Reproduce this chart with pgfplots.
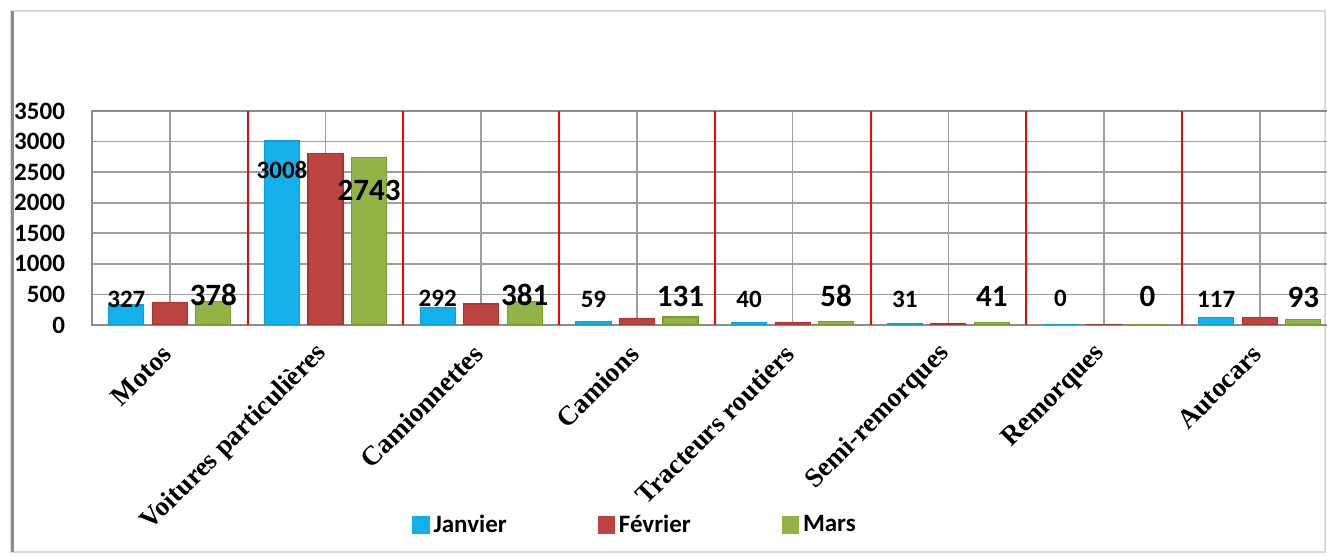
\documentclass[border=0pt]{standalone}
\usepackage{pgfplots}
\pgfplotsset{compat=1.18}
\usepackage{pgfplotstable}
\usepackage{fontspec}
\setmainfont{Carlito}
\newfontfamily\catfont{Liberation Serif}
\definecolor{janD}{HTML}{0E9FD6}
\definecolor{janM}{HTML}{14B0EA}
\definecolor{fevD}{HTML}{A8332F}
\definecolor{fevM}{HTML}{BC4440}
\definecolor{marD}{HTML}{7A9C2E}
\definecolor{marM}{HTML}{92B345}
\definecolor{sepred}{HTML}{FF0000}

\pgfplotstableread{
x jan fev mar jdy mdy
0 327 365 378 3 3.5
1 3008 2808 2743 -14.5 -16.4
2 292 345 381 4.5 3.4
3 59 100 131 11 10.5
4 40 45 58 11.6 12.7
5 31 30 41 12 13.2
6 0 3 0 13.3 14.5
7 117 125 93 9 11
}\data

\begin{document}
\begin{tikzpicture}
\useasboundingbox (0,0) rectangle (663.5pt,278pt);
\fill[white] (0,0) rectangle (663.5pt,278pt);
\draw[black!15, line width=0.8pt] (5.5pt,2pt) rectangle (662.5pt,272.5pt);
\draw[black!45, line width=1.6pt] (6.2pt,2pt) -- (6.2pt,272.5pt);
\begin{axis}[
  at={(46pt,115.5pt)}, anchor=south west,
  scale only axis, width=622.8pt, height=107pt,
  ybar=4.25pt, bar width=17.5pt,
  xmin=-0.5, xmax=7.5, ymin=0, ymax=3500,
  xtick={0,1,2,3,4,5,6,7},
  xticklabels={Motos, Voitures particulières, Camionnettes, Camions, Tracteurs routiers, Semi-remorques, Remorques, Autocars},
  ytick={0,500,...,3500},
  major tick length=0pt, minor tick length=0pt,
  xmajorgrids, ymajorgrids,
  major grid style={black!38, line width=0.8pt},
  axis line style={black!45, line width=0.8pt},
  /pgf/number format/1000 sep={},
  /pgf/number format/assume math mode=true,
  yticklabel style={anchor=east, xshift=-10pt, font=\bfseries\fontsize{12.5}{14}\selectfont},
  xticklabel style={rotate=45, anchor=east, xshift=1.5pt, font=\catfont\bfseries\fontsize{13.6}{15}\selectfont},
  xticklabel shift=11pt,
  legend columns=3,
  legend style={draw=none, fill=none, at={(0.2569,-0.935)}, anchor=west, inner sep=0pt,
    font=\bfseries\fontsize{12.5}{14}\selectfont,
    /tikz/every even column/.append style={column sep=43.5pt}},
]
\addplot[draw=janD, line width=0.6pt, fill=janM,
  legend image code/.code={\fill[janM] (0pt,-4pt) rectangle (8pt,4pt);},
  nodes near coords,
  visualization depends on={\thisrow{jdy} \as \dy},
  every node near coord/.append style={anchor=center, yshift=\dy pt, text=black, font=\bfseries\fontsize{12.5}{14}\selectfont}]
  table[x=x, y=jan]{\data};
\addlegendentry{Janvier}
\addplot[draw=fevD, line width=0.6pt, fill=fevM,
  legend image code/.code={\fill[fevM] (0pt,-4pt) rectangle (8pt,4pt);}]
  table[x=x, y=fev]{\data};
\addlegendentry{Février}
\addplot[draw=marD, line width=0.6pt, fill=marM,
  legend image code/.code={\fill[marM] (0pt,-4pt) rectangle (8pt,4pt);},
  nodes near coords,
  visualization depends on={\thisrow{mdy} \as \dy},
  every node near coord/.append style={anchor=center, yshift=\dy pt, text=black, font=\bfseries\fontsize{15.5}{17}\selectfont}]
  table[x=x, y=mar]{\data};
\addlegendentry{Mars}
\coordinate (loA) at (axis cs:0.5,0);   \coordinate (hiA) at (axis cs:0.5,3500);
\coordinate (loB) at (axis cs:1.5,0);   \coordinate (hiB) at (axis cs:1.5,3500);
\coordinate (loC) at (axis cs:2.5,0);   \coordinate (hiC) at (axis cs:2.5,3500);
\coordinate (loD) at (axis cs:3.5,0);   \coordinate (hiD) at (axis cs:3.5,3500);
\coordinate (loE) at (axis cs:4.5,0);   \coordinate (hiE) at (axis cs:4.5,3500);
\coordinate (loF) at (axis cs:5.5,0);   \coordinate (hiF) at (axis cs:5.5,3500);
\coordinate (loG) at (axis cs:6.5,0);   \coordinate (hiG) at (axis cs:6.5,3500);
\end{axis}
\path[draw=sepred, line width=1pt]
  (loA) -- (hiA) (loB) -- (hiB) (loC) -- (hiC) (loD) -- (hiD)
  (loE) -- (hiE) (loF) -- (hiF) (loG) -- (hiG);
\end{tikzpicture}
\end{document}
